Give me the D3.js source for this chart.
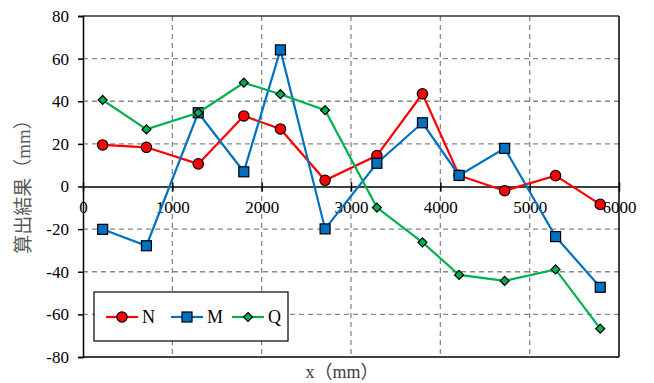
<!DOCTYPE html>
<html lang="ja">
<head>
<meta charset="utf-8"/>
<title>算出結果</title>
<script src="https://d3js.org/d3.v7.min.js"></script>
<style>
  body { margin: 0; background: #fff; }
  text { font-family: "Liberation Serif", "Times New Roman", serif; }
</style>
</head>
<body>
<div id="chart"></div>
<script>
// data
var xs = [220, 710, 1290, 1800, 2210, 2710, 3290, 3800, 4210, 4720, 5290, 5790];
var nVals = [19.5, 18.4, 10.6, 33.1, 27.0, 2.9, 14.5, 43.5, 5.2, -2.0, 5.1, -8.4];
var mVals = [-20.1, -27.8, 34.6, 6.9, 64.1, -19.9, 10.9, 29.9, 5.2, 17.9, -23.5, -47.3];
var qVals = [40.6, 26.8, 34.6, 48.7, 43.3, 35.8, -9.9, -26.2, -41.5, -44.3, -38.9, -66.7];
var seriesNames = ["N", "M", "Q"];
var xTicks = [0, 1000, 2000, 3000, 4000, 5000, 6000];
var yTicks = [-80, -60, -40, -20, 0, 20, 40, 60, 80];

var w = 654, h = 383;
var pLeft = 83, pRight = 619, pTop = 16, pBottom = 357;

var svg = d3.select("#chart").append("svg")
    .attr("width", w).attr("height", h);

var x = d3.scaleLinear().domain([0, 6000]).range([pLeft, pRight]);
var y = d3.scaleLinear().domain([-80, 80]).range([pBottom, pTop]);

// grid
svg.append("g").selectAll("line")
    .data(xTicks.filter(function(d) { return d > 0 && d < 6000; }))
    .enter().append("line")
    .attr("x1", function(d) { return x(d); }).attr("x2", function(d) { return x(d); })
    .attr("y1", pTop).attr("y2", pBottom)
    .attr("stroke", "#888").attr("stroke-width", 1.3).attr("stroke-dasharray", "5,4");
svg.append("g").selectAll("line")
    .data(yTicks.filter(function(d) { return d !== 0 && Math.abs(d) < 80; }))
    .enter().append("line")
    .attr("x1", pLeft).attr("x2", pRight)
    .attr("y1", function(d) { return y(d); }).attr("y2", function(d) { return y(d); })
    .attr("stroke", "#888").attr("stroke-width", 1.3).attr("stroke-dasharray", "5,4");

// frame: top, right, bottom
svg.append("line").attr("x1", pLeft).attr("x2", pRight).attr("y1", pTop).attr("y2", pTop)
    .attr("stroke", "#333").attr("stroke-width", 1.5);
svg.append("line").attr("x1", pRight).attr("x2", pRight).attr("y1", pTop).attr("y2", pBottom)
    .attr("stroke", "#000").attr("stroke-width", 1.5);
svg.append("line").attr("x1", pLeft).attr("x2", pRight).attr("y1", pBottom).attr("y2", pBottom)
    .attr("stroke", "#000").attr("stroke-width", 1.5);

// y axis
var yAxis = d3.axisLeft(y).tickValues(yTicks).tickSize(5).tickPadding(9)
    .tickFormat(function(d) { return String(d); });
var gy = svg.append("g").attr("transform", "translate(" + pLeft + ",0)").call(yAxis);
gy.select(".domain").attr("stroke", "#000").attr("stroke-width", 1.5);
gy.selectAll(".tick line").attr("stroke", "#000").attr("stroke-width", 1.5);
gy.selectAll(".tick text").attr("font-size", 17).attr("fill", "#000")
    .attr("font-family", "Liberation Serif");

// x axis at y = 0
var xAxis = d3.axisBottom(x).tickValues(xTicks).tickSize(0).tickPadding(14)
    .tickFormat(d3.format("d"));
var gx = svg.append("g").attr("transform", "translate(0," + y(0) + ")").call(xAxis);
gx.select(".domain").attr("stroke", "#000").attr("stroke-width", 1.5);
gx.selectAll(".tick text").attr("font-size", 17).attr("fill", "#000")
    .attr("font-family", "Liberation Serif");
gx.selectAll(".tick").append("line")
    .attr("y1", -4).attr("y2", 5)
    .attr("stroke", "#000").attr("stroke-width", 1.5);

// series
var colours = ["#FF0000", "#0070C0", "#00B050"];
var allVals = [nVals, mVals, qVals];

var line = d3.line()
    .x(function(d) { return x(d[0]); })
    .y(function(d) { return y(d[1]); });

function marker(g, k, cx, cy) {
  if (k === 0) {
    g.append("circle").attr("cx", cx).attr("cy", cy).attr("r", 5.2)
      .attr("fill", colours[k]).attr("stroke", "#000").attr("stroke-width", 1.2);
  } else if (k === 1) {
    g.append("rect").attr("x", cx - 5).attr("y", cy - 5).attr("width", 10).attr("height", 10)
      .attr("fill", colours[k]).attr("stroke", "#000").attr("stroke-width", 1.2);
  } else {
    var s = 4.5;
    g.append("path")
      .attr("d", "M" + cx + "," + (cy - s) + "L" + (cx + s) + "," + cy + "L" + cx + "," + (cy + s) + "L" + (cx - s) + "," + cy + "Z")
      .attr("fill", colours[k]).attr("stroke", "#000").attr("stroke-width", 1.2);
  }
}

allVals.forEach(function(vals, k) {
  var pts = xs.map(function(v, i) { return [v, vals[i]]; });
  var g = svg.append("g");
  g.append("path").datum(pts).attr("d", line)
    .attr("fill", "none").attr("stroke", colours[k]).attr("stroke-width", 2.2);
  pts.forEach(function(p) { marker(g, k, x(p[0]), y(p[1])); });
});

// legend
var lg = svg.append("g");
lg.append("rect").attr("x", 94).attr("y", 292).attr("width", 194).attr("height", 49)
  .attr("fill", "#fff").attr("stroke", "#000").attr("stroke-width", 1.2);
var legX = [106, 171, 232];
seriesNames.forEach(function(name, k) {
  var lx = legX[k], ly = 317;
  lg.append("line").attr("x1", lx).attr("x2", lx + 32).attr("y1", ly).attr("y2", ly)
    .attr("stroke", colours[k]).attr("stroke-width", 2.2);
  marker(lg, k, lx + 16, ly);
  lg.append("text").attr("x", lx + 36).attr("y", ly + 6).text(name)
    .attr("font-size", 18).attr("fill", "#000");
});

// axis titles
svg.append("text").attr("x", 342).attr("y", 378).attr("text-anchor", "middle")
  .attr("font-size", 18).attr("fill", "#404040")
  .style("font-family", "'Liberation Serif', 'Noto Sans CJK JP', serif")
  .text("x（mm）");
svg.append("text")
  .attr("transform", "translate(30,182) rotate(-90)")
  .attr("text-anchor", "middle").attr("font-size", 19).attr("fill", "#595959")
  .style("font-family", "'Liberation Serif', 'Noto Sans CJK JP', serif")
  .text("算出結果（mm）");
</script>
</body>
</html>
